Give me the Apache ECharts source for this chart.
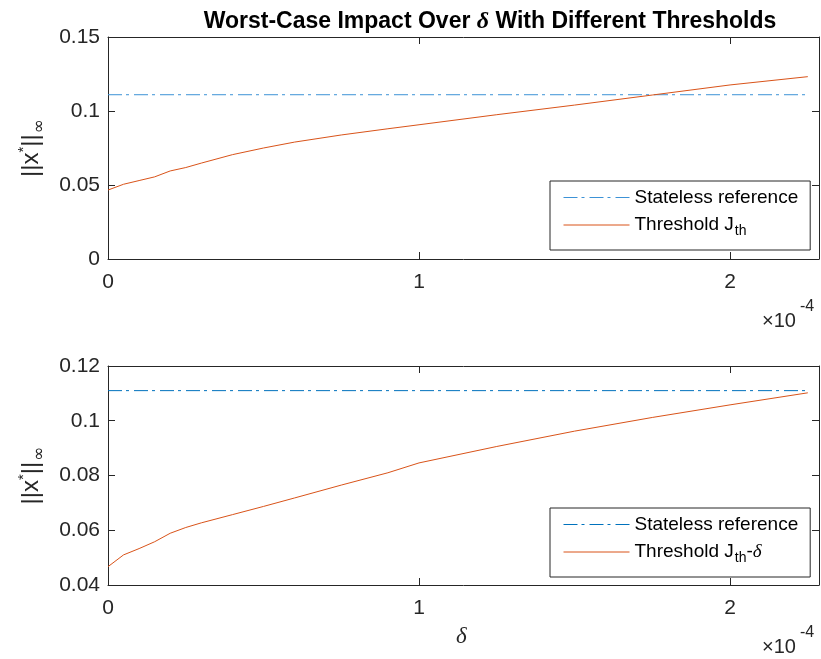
<!DOCTYPE html>
<html><head><meta charset="utf-8">
<script src="https://cdn.jsdelivr.net/npm/echarts@6/dist/echarts.min.js"></script>
<style>html,body{margin:0;padding:0;background:#fff}#c{width:821px;height:659px}</style>
</head><body><div id="c"></div>
<script>
// delta values in units of 1e-4
const deltaE4 = [0, 0.05, 0.1, 0.15, 0.2, 0.25, 0.3, 0.4, 0.5, 0.6, 0.75, 0.9, 1.0, 1.25, 1.5, 1.75, 2.0, 2.25];
const thresholdJth = [0.0466, 0.0505, 0.0530, 0.0555, 0.0595, 0.0618, 0.0648, 0.0705, 0.0750, 0.0790, 0.0838, 0.0880, 0.0907, 0.0975, 0.1040, 0.1108, 0.1176, 0.1232];
const thresholdJthMinusDelta = [0.0467, 0.0510, 0.0533, 0.0558, 0.0589, 0.0610, 0.0627, 0.0657, 0.0687, 0.0718, 0.0765, 0.0810, 0.0846, 0.0906, 0.0962, 0.1012, 0.1058, 0.1102];
const statelessRef = 0.111;
const xTickLabels = ['0', '1', '2'];
const xTickScale = 1e-4;

const toPairs = ys => deltaE4.map((d, i) => [d * xTickScale, ys[i]]);
const refPairs = [[0, statelessRef], [deltaE4[deltaE4.length - 1] * xTickScale, statelessRef]];

const FONT = 'Liberation Sans, Arial, Helvetica, sans-serif';
const SERIF = 'Liberation Serif, DejaVu Serif, serif';
const TXT = '#262626';
const AX = '#262626';
const XMAX = 2.286e-4;

function xAxes(gi) {
  return [{
    type: 'value', gridIndex: gi, min: 0, max: XMAX, interval: 1e-4, position: 'bottom',
    axisLine: { show: true, onZero: false, lineStyle: { color: AX, width: 1 } },
    axisTick: { show: true, inside: true, length: 7, lineStyle: { color: AX } },
    axisLabel: { show: true, margin: 13, color: TXT, fontSize: 21, fontFamily: FONT, showMaxLabel: false,
      formatter: v => xTickLabels[Math.round(v / xTickScale)] ?? '' },
    splitLine: { show: false }
  }, {
    type: 'value', gridIndex: gi, min: 0, max: XMAX, interval: 1e-4, position: 'top',
    axisLine: { show: true, onZero: false, lineStyle: { color: AX, width: 1 } },
    axisTick: { show: true, inside: true, length: 7, lineStyle: { color: AX } },
    axisLabel: { show: false }, splitLine: { show: false }
  }];
}
function yAxes(gi, min, max, interval) {
  return [{
    type: 'value', gridIndex: gi, min, max, interval, position: 'left',
    axisLine: { show: true, onZero: false, lineStyle: { color: AX, width: 1 } },
    axisTick: { show: true, inside: true, length: 7, lineStyle: { color: AX } },
    axisLabel: { show: true, margin: 8, color: TXT, fontSize: 21, fontFamily: FONT },
    splitLine: { show: false },
    name: '{n|||x}{sup|*}{n|||}{sub|\u221e}', nameLocation: 'middle', nameGap: 56, nameRotate: 90,
    nameTextStyle: { color: TXT, fontFamily: FONT, rich: {
      n: { fontSize: 24, fontFamily: FONT, color: TXT, lineHeight: 30 },
      sup: { fontSize: 15, fontFamily: FONT, color: TXT, verticalAlign: 'top', lineHeight: 15 },
      sub: { fontSize: 17, fontFamily: 'DejaVu Sans', color: TXT, verticalAlign: 'top', lineHeight: 17, padding: [15, 0, 0, 1] }
    } }
  }, {
    type: 'value', gridIndex: gi, min, max, interval, position: 'right',
    axisLine: { show: true, onZero: false, lineStyle: { color: AX, width: 1 } },
    axisTick: { show: true, inside: true, length: 7, lineStyle: { color: AX } },
    axisLabel: { show: false }, splitLine: { show: false }
  }];
}

const legendRich = {
  t: { fontSize: 19, fontFamily: FONT, color: '#000', lineHeight: 22 },
  sub: { fontSize: 14, fontFamily: FONT, color: '#000', verticalAlign: 'top', lineHeight: 14, padding: [10, 0, 0, 1] },
  d: { fontSize: 19, fontFamily: SERIF, fontStyle: 'italic', color: '#000', lineHeight: 22 }
};
const legendNames = {
  ref1: '{t|Stateless reference}', ref2: '{t|Stateless reference}',
  th1: '{t|Threshold J}{sub|th}', th2: '{t|Threshold J}{sub|th}{t|-}{d|\u03b4}'
};
function legend(top, names) {
  return {
    data: names, left: 550, top: top, orient: 'vertical',
    itemWidth: 66, itemHeight: 22, itemGap: 7,
    padding: [7, 12, 12, 13], backgroundColor: '#fff', borderColor: '#262626', borderWidth: 1, borderRadius: 0,
    selectedMode: false,
    itemStyle: { opacity: 0, borderWidth: 0 },
    lineStyle: { width: 1 },
    formatter: n => legendNames[n],
    textStyle: { rich: legendRich }
  };
}

const chart = echarts.init(document.getElementById('c'), null, { renderer: 'canvas' });
chart.setOption({
  backgroundColor: '#fff',
  animation: false,
  title: {
    text: '{b|Worst-Case Impact Over }{d|\u03b4}{b| With Different Thresholds}',
    left: 485, top: 5, textAlign: 'center',
    textStyle: { rich: {
      b: { fontSize: 23, fontWeight: 'bold', fontFamily: FONT, color: '#000' },
      d: { fontSize: 24, fontStyle: 'italic', fontFamily: SERIF, color: '#000' }
    } }
  },
  grid: [
    { left: 108, top: 37, width: 711, height: 222 },
    { left: 108, top: 366, width: 711, height: 219 }
  ],
  xAxis: [...xAxes(0), ...xAxes(1)],
  yAxis: [...yAxes(0, 0, 0.15, 0.05), ...yAxes(1, 0.04, 0.12, 0.02)],
  legend: [legend(181, ['ref1', 'th1']), legend(508, ['ref2', 'th2'])],
  series: [
    { name: 'ref1', type: 'line', xAxisIndex: 0, yAxisIndex: 0, data: refPairs, showSymbol: false, symbol: 'none',
      lineStyle: { color: '#3d92d6', width: 1, type: [14, 4, 3, 5] }, itemStyle: { color: '#3d92d6' } },
    { name: 'th1', type: 'line', xAxisIndex: 0, yAxisIndex: 0, data: toPairs(thresholdJth), showSymbol: false, symbol: 'none',
      lineStyle: { color: '#D95319', width: 1 }, itemStyle: { color: '#D95319' } },
    { name: 'ref2', type: 'line', xAxisIndex: 2, yAxisIndex: 2, data: refPairs, showSymbol: false, symbol: 'none',
      lineStyle: { color: '#0072BD', width: 1, type: [14, 4, 3, 5] }, itemStyle: { color: '#0072BD' } },
    { name: 'th2', type: 'line', xAxisIndex: 2, yAxisIndex: 2, data: toPairs(thresholdJthMinusDelta), showSymbol: false, symbol: 'none',
      lineStyle: { color: '#D95319', width: 1 }, itemStyle: { color: '#D95319' } }
  ],
  graphic: [
    { type: 'text', left: 762, top: 311, style: { text: '\u00d710', fontSize: 20, fontFamily: FONT, fill: TXT } },
    { type: 'text', left: 800, top: 299, style: { text: '-4', fontSize: 16, fontFamily: FONT, fill: TXT } },
    { type: 'text', left: 762, top: 637, style: { text: '\u00d710', fontSize: 20, fontFamily: FONT, fill: TXT } },
    { type: 'text', left: 800, top: 625, style: { text: '-4', fontSize: 16, fontFamily: FONT, fill: TXT } },
    { type: 'text', left: 456, top: 625, style: { text: '\u03b4', fontSize: 23, fontStyle: 'italic', fontFamily: SERIF, fill: TXT } }
  ]
});
</script></body></html>
